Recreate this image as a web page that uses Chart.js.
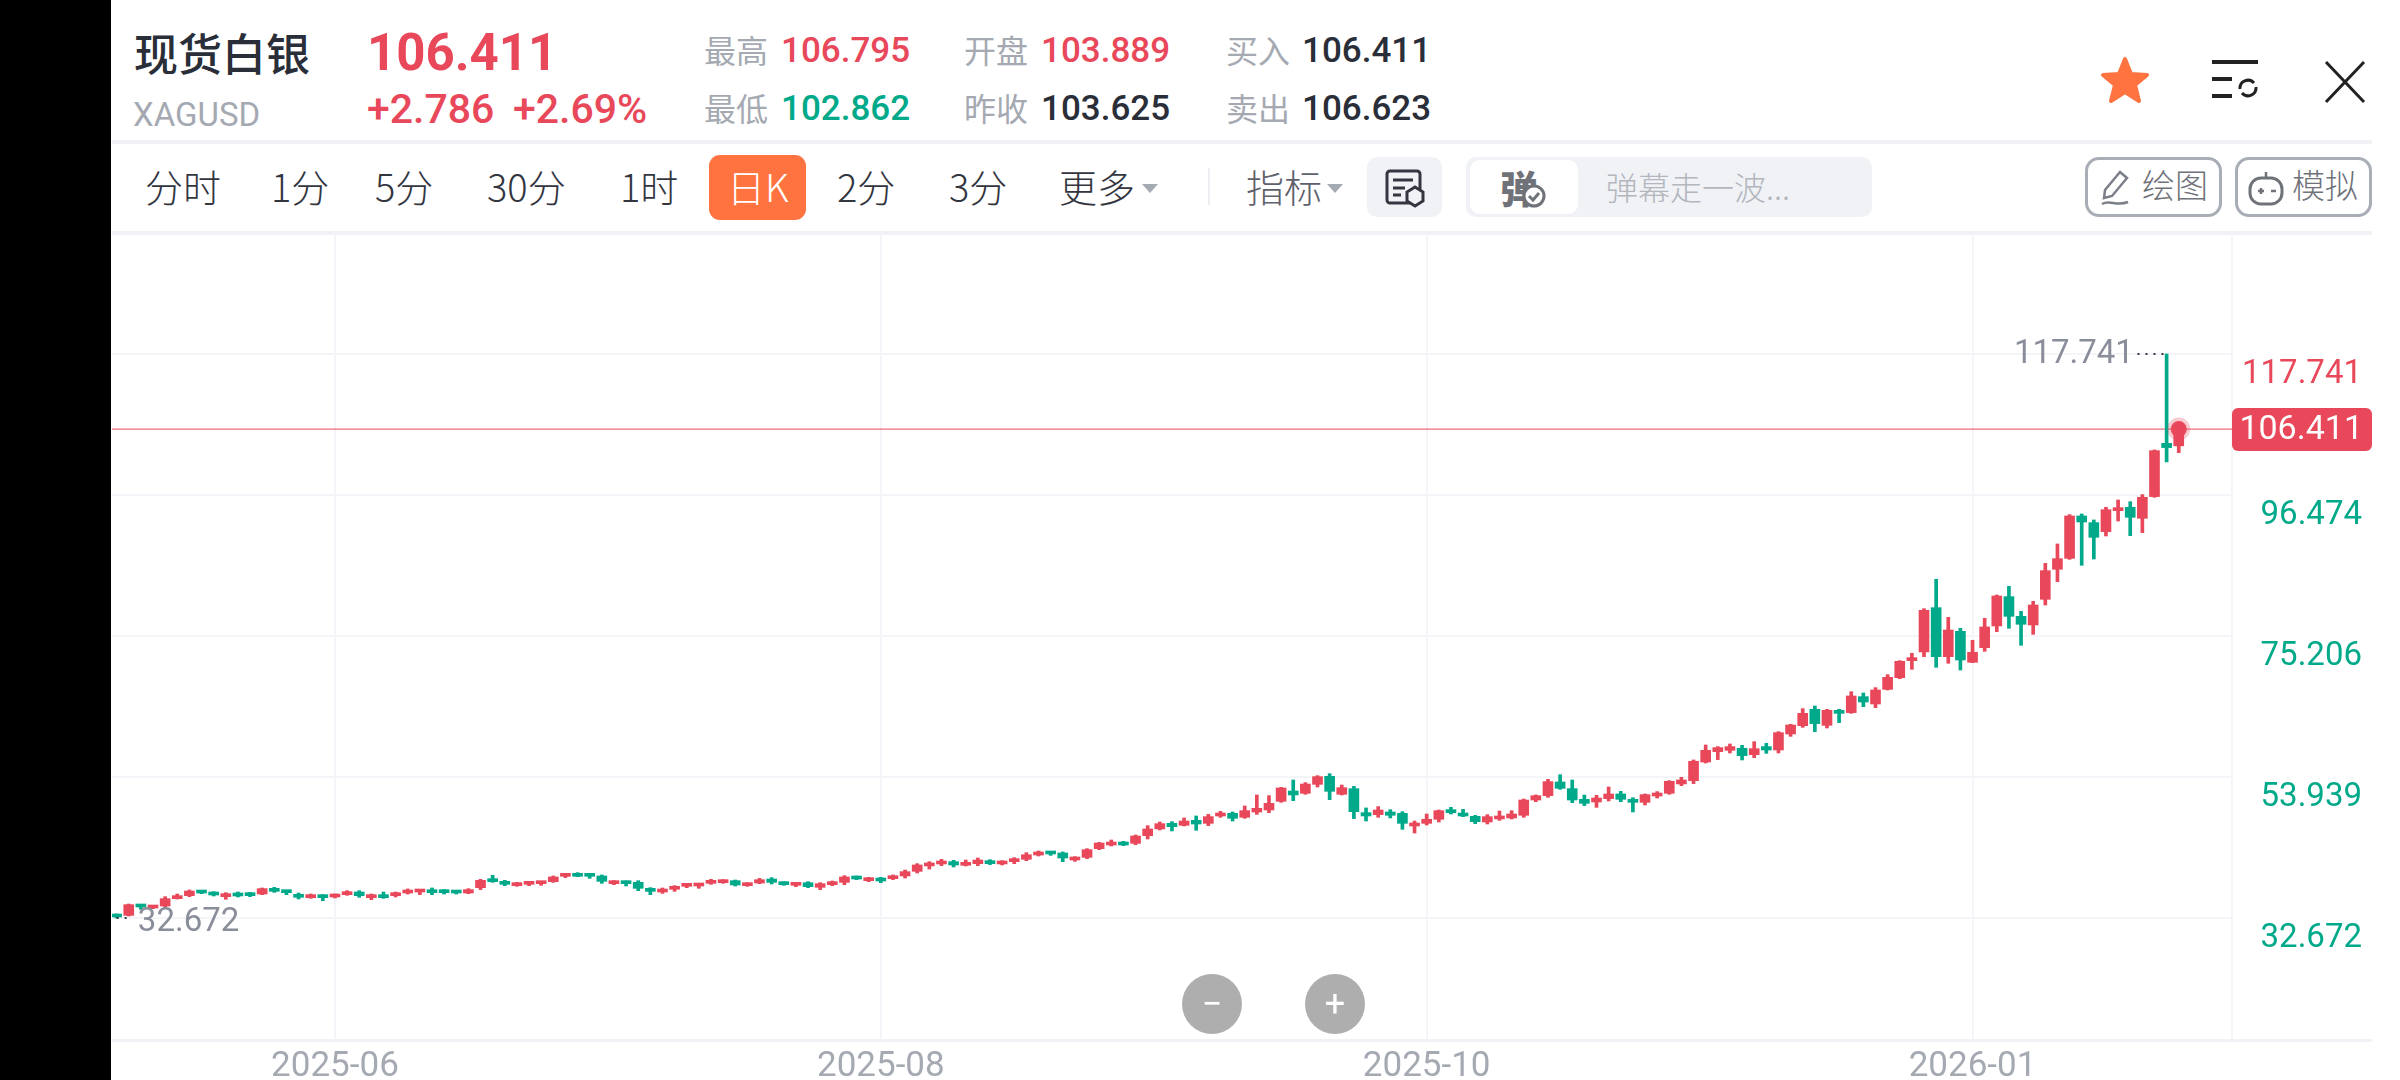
<!DOCTYPE html>
<html lang="zh">
<head>
<meta charset="UTF-8" />
<title>现货白银 XAGUSD</title>
<script src="https://cdn.jsdelivr.net/npm/chart.js"></script>
<style>
  html, body { margin: 0; padding: 0; background: #fff; }
  body { width: 2400px; height: 1080px; overflow: hidden; position: relative; font-family: Roboto, "Noto Sans CJK SC", sans-serif; }
  .t { position: absolute; white-space: nowrap; line-height: 1; }
  .cn { font-family: "Noto Sans CJK SC", sans-serif; }
  .gray { color: #a5a9b2; }
  .red { color: #e8485a; }
  .green { color: #00a98a; }
  .dark { color: #2a2e39; }
  .stat { font-size: 32px; }
  .num { font-size: 35px; font-weight: 500; }
  .tab { font-size: 38px; color: #33363f; font-family: "Noto Sans CJK SC", Roboto, sans-serif; font-weight: 300; }
  .box { position: absolute; box-sizing: border-box; }
  .caret { position: absolute; width: 0; height: 0; border-left: 8px solid transparent; border-right: 8px solid transparent; border-top: 9px solid #a5a9b2; }
  .hline { position: absolute; left: 112px; right: 28px; height: 4px; background: #f1f2f5; }
  .round { position: absolute; width: 60px; height: 60px; border-radius: 50%; background: #aeaeae; top: 974px; }
  #side { position: absolute; left: 0; top: 0; width: 111px; height: 1080px; background: #000; }
  #wrap { position: absolute; left: 112px; top: 233px; width: 2260px; height: 847px; }
</style>
</head>
<body>
<div id="side"></div>

<!-- cabecera -->
<div class="t cn dark" style="left:134px;top:30px;font-size:44px;font-weight:500">现货白银</div>
<div class="t gray" style="left:133px;top:98px;font-size:33px">XAGUSD</div>
<div class="t red" style="left:367px;top:27px;font-size:51px;font-weight:700">106.411</div>
<div class="t red" style="left:367px;top:89px;font-size:41px;font-weight:500">+2.786</div>
<div class="t red" style="left:513px;top:89px;font-size:41px;font-weight:500">+2.69%</div>

<div class="t cn gray stat" style="left:704px;top:33px">最高</div>
<div class="t red num" style="left:781px;top:33px">106.795</div>
<div class="t cn gray stat" style="left:964px;top:33px">开盘</div>
<div class="t red num" style="left:1041px;top:33px">103.889</div>
<div class="t cn gray stat" style="left:1226px;top:33px">买入</div>
<div class="t dark num" style="left:1302px;top:33px">106.411</div>
<div class="t cn gray stat" style="left:704px;top:91px">最低</div>
<div class="t green num" style="left:781px;top:91px">102.862</div>
<div class="t cn gray stat" style="left:964px;top:91px">昨收</div>
<div class="t dark num" style="left:1041px;top:91px">103.625</div>
<div class="t cn gray stat" style="left:1226px;top:91px">卖出</div>
<div class="t dark num" style="left:1302px;top:91px">106.623</div>

<svg class="box" style="left:2098px;top:54px" width="54" height="54" viewBox="0 0 54 54">
  <polygon points="27,5 33,20 49,21 37,31 41,47 27,38 13,47 17,31 5,21 21,20" fill="#ff7340" stroke="#ff7340" stroke-width="4" stroke-linejoin="round"/>
</svg>
<svg class="box" style="left:2205px;top:55px" width="60" height="50" viewBox="0 0 60 50">
  <path d="M7 7h46M7 24h20M7 41h20" stroke="#222" stroke-width="4" fill="none"/>
  <path d="M35 34a8 8 0 0 1 14-6M51 32a8 8 0 0 1-14 6" stroke="#222" stroke-width="3" fill="none"/>
</svg>
<svg class="box" style="left:2320px;top:57px" width="50" height="50" viewBox="0 0 50 50">
  <path d="M6 5l38 40M44 5L6 45" stroke="#222" stroke-width="3" fill="none"/>
</svg>

<div class="hline" style="top:140px"></div>

<!-- pestañas -->
<div class="t tab" style="left:145px;top:167px">分时</div>
<div class="t tab" style="left:271px;top:167px">1分</div>
<div class="t tab" style="left:375px;top:167px">5分</div>
<div class="t tab" style="left:487px;top:167px">30分</div>
<div class="t tab" style="left:620px;top:167px">1时</div>
<div class="box" style="left:709px;top:155px;width:97px;height:65px;background:#ff7340;border-radius:11px"></div>
<div class="t tab" style="left:727px;top:167px;color:#fff">日K</div>
<div class="t tab" style="left:837px;top:167px">2分</div>
<div class="t tab" style="left:949px;top:167px">3分</div>
<div class="t tab" style="left:1059px;top:167px">更多</div>
<div class="caret" style="left:1142px;top:184px"></div>
<div class="box" style="left:1208px;top:168px;width:2px;height:37px;background:#eceef2"></div>
<div class="t tab" style="left:1246px;top:167px;color:#5d616b">指标</div>
<div class="caret" style="left:1327px;top:184px"></div>
<div class="box" style="left:1367px;top:157px;width:75px;height:60px;background:#f0f2f6;border-radius:10px"></div>
<svg class="box" style="left:1384px;top:168px" width="42" height="40" viewBox="0 0 42 40">
  <rect x="3" y="3" width="33" height="32" rx="3" fill="none" stroke="#33363f" stroke-width="3"/>
  <path d="M9 12h20M9 20h12M9 27h8" stroke="#33363f" stroke-width="3"/>
  <polygon points="31,19 39,24 39,33 31,38 23,33 23,24" fill="#f0f2f6" stroke="#33363f" stroke-width="3"/>
</svg>
<div class="box" style="left:1466px;top:157px;width:406px;height:60px;background:#f0f2f6;border-radius:10px"></div>
<div class="box" style="left:1470px;top:160px;width:108px;height:54px;background:#fff;border-radius:10px"></div>
<div class="t cn" style="left:1500px;top:168px;font-size:38px;font-weight:900;color:#6f7278">弹</div>
<svg class="box" style="left:1522px;top:184px" width="24" height="24" viewBox="0 0 24 24">
  <circle cx="12" cy="12" r="10" fill="#fff" stroke="#6f7278" stroke-width="3"/><path d="M7 12l4 4 6-7" stroke="#6f7278" stroke-width="3" fill="none"/>
</svg>
<div class="t cn" style="left:1606px;top:170px;font-size:32px;color:#b3b6bd;font-weight:300">弹幕走一波...</div>

<div class="box" style="left:2085px;top:157px;width:137px;height:60px;border:3px solid #a9adb6;border-radius:14px"></div>
<svg class="box" style="left:2098px;top:168px" width="36" height="40" viewBox="0 0 36 40">
  <path d="M22 4l7 6-15 18-8 2 1-8zM4 36c8-5 14 3 26-2" stroke="#7b7f88" stroke-width="2.5" fill="none"/>
</svg>
<div class="t cn" style="left:2142px;top:168px;font-size:33px;color:#6f7278;font-weight:300">绘图</div>
<div class="box" style="left:2235px;top:157px;width:137px;height:60px;border:3px solid #a9adb6;border-radius:14px"></div>
<svg class="box" style="left:2246px;top:168px" width="40" height="40" viewBox="0 0 40 40">
  <rect x="4" y="10" width="32" height="26" rx="11" fill="none" stroke="#6f7278" stroke-width="3"/>
  <path d="M20 10V4M12 23h6M15 20v6M25 23h5" stroke="#6f7278" stroke-width="2.5"/>
</svg>
<div class="t cn" style="left:2292px;top:168px;font-size:33px;color:#6f7278;font-weight:300">模拟</div>

<div class="hline" style="top:231px"></div>
<div class="hline" style="top:1039px;height:3px"></div>

<div id="wrap"><canvas id="chart"></canvas></div>

<div class="round" style="left:1182px"></div>
<div class="t" style="left:1182px;width:60px;top:986px;text-align:center;font-size:36px;color:#fff">−</div>
<div class="round" style="left:1305px"></div>
<div class="t" style="left:1305px;width:60px;top:986px;text-align:center;font-size:36px;color:#fff">+</div>

<script>
  // velas diarias
  const opens = [
    33.12,33.07,34.63,34.18,34.48,35.59,36.04,36.74,36.49,35.89,36.24,36.29,36.29,37.00,36.74,36.24,35.74,35.94,35.84,36.19,
    36.59,35.74,35.99,36.04,36.44,36.59,36.85,36.79,36.69,36.44,37.25,38.45,38.15,37.55,37.75,37.85,38.15,38.96,39.21,39.26,
    39.01,37.85,38.15,38.05,37.10,36.59,37.00,37.45,37.50,37.90,38.00,38.30,37.55,37.95,38.55,37.95,37.60,38.00,37.30,37.70,
    38.05,38.81,38.30,38.60,38.60,39.01,39.71,40.52,40.82,41.17,40.62,40.87,41.27,40.82,41.17,41.52,42.17,42.58,42.48,41.42,
    41.82,43.13,43.68,43.93,43.93,45.09,46.10,46.95,46.65,47.40,46.95,48.06,48.46,47.86,48.66,48.96,50.27,51.83,51.48,52.83,
    54.04,51.33,52.18,48.56,48.26,48.66,48.46,46.55,46.95,47.56,49.01,48.46,48.01,47.15,47.61,47.76,48.16,50.47,51.12,53.19,
    52.18,50.57,50.17,50.67,51.38,50.57,50.12,51.07,51.48,52.89,53.39,56.20,57.76,57.96,58.27,57.31,58.52,58.01,60.43,61.68,
    64.15,61.73,63.85,63.65,66.06,64.95,67.16,68.92,71.49,72.80,79.48,72.09,75.91,71.24,73.45,76.72,81.14,78.17,76.87,80.74,
    85.27,86.92,93.31,92.30,90.95,94.11,94.62,92.96,96.23,104.27,103.889
  ];
  const highs = [
    33.28,34.78,34.73,34.53,35.89,36.29,36.90,36.85,36.64,36.49,36.59,36.54,37.20,37.30,36.85,36.44,36.29,36.19,36.29,36.79,
    36.79,36.29,36.59,36.59,37.05,37.00,37.20,36.95,36.79,37.10,38.50,39.11,38.35,38.05,38.20,38.20,39.01,39.36,39.51,39.41,
    39.16,38.30,38.25,38.30,37.25,37.20,37.55,37.85,37.80,38.50,38.45,38.40,38.00,38.65,38.76,38.15,38.00,38.15,38.00,38.25,
    39.06,39.01,38.81,38.81,39.16,39.91,40.87,41.17,41.52,41.37,41.42,41.72,41.47,41.32,41.77,42.53,42.78,42.73,42.63,41.92,
    43.13,44.09,44.44,44.24,45.19,46.60,47.15,47.20,47.76,48.06,48.31,48.76,48.66,49.57,51.23,51.13,52.38,53.49,53.09,54.14,
    54.44,52.73,52.53,49.27,49.47,49.01,48.71,47.30,48.36,48.96,49.36,49.06,48.16,48.26,48.81,48.86,50.62,51.23,53.59,54.29,
    53.49,51.22,51.17,52.43,51.78,50.82,51.38,51.73,53.39,53.89,56.51,58.77,58.52,58.92,58.72,59.27,59.02,60.78,61.89,64.25,
    64.65,64.15,64.15,66.81,66.61,67.42,69.38,71.49,72.60,79.33,83.76,78.02,76.37,74.56,77.87,81.39,82.70,78.93,80.44,86.17,
    89.09,93.51,93.61,92.71,94.62,95.72,95.46,96.53,103.27,117.741,106.795
  ];
  const lows = [
    32.672,32.97,33.98,34.08,34.28,35.54,35.89,36.34,35.99,35.49,35.84,35.89,36.19,36.54,36.19,35.54,35.64,35.29,35.69,36.09,
    35.79,35.44,35.64,35.84,36.29,36.19,36.19,36.29,36.29,36.34,36.95,38.05,37.55,37.45,37.55,37.60,38.05,38.76,38.91,38.65,
    37.90,37.70,37.50,36.79,36.19,36.39,36.69,37.25,37.15,37.75,37.90,37.50,37.45,37.85,37.80,37.60,37.40,37.25,36.95,37.55,
    37.70,38.45,38.15,38.00,38.45,38.70,39.46,40.06,40.57,40.37,40.52,40.57,40.72,40.67,40.87,41.32,42.02,42.12,41.17,41.22,
    41.62,42.98,43.53,43.58,43.73,44.59,45.95,45.80,46.55,45.90,46.60,47.86,47.30,47.71,48.31,48.56,50.12,50.37,51.33,52.43,
    50.52,51.23,47.66,47.30,47.86,47.76,46.05,45.49,46.70,47.15,48.36,47.96,46.90,46.85,47.40,47.61,47.86,50.22,50.87,52.08,
    50.07,49.62,49.36,50.32,50.22,48.66,49.72,50.77,51.33,52.63,52.94,56.05,56.56,57.56,56.51,56.86,57.51,57.56,60.07,61.43,
    60.78,61.33,62.14,63.54,64.55,64.40,67.06,68.77,70.18,72.09,70.48,71.09,70.08,71.19,72.90,75.86,76.37,73.80,75.46,79.88,
    83.40,86.77,85.87,86.82,90.29,92.55,90.34,90.79,96.13,101.46,102.862
  ];
  const closes = [
    32.82,34.68,34.33,34.38,35.59,35.89,36.74,36.44,36.14,36.29,35.99,36.04,37.10,36.69,36.49,35.79,35.99,35.74,36.14,36.59,
    36.04,36.09,35.74,36.49,36.85,36.79,36.49,36.49,36.44,36.95,38.35,38.15,37.75,37.85,38.05,38.05,38.86,39.21,38.96,38.96,
    38.20,38.05,37.85,37.15,36.69,37.00,37.35,37.75,37.65,38.25,38.25,37.65,37.80,38.45,38.05,37.70,37.90,37.40,37.85,38.05,
    38.86,38.55,38.60,38.25,39.01,39.66,40.67,40.87,41.27,40.67,40.97,41.42,40.87,41.17,41.52,42.22,42.63,42.33,41.72,41.77,
    42.98,43.98,44.09,43.68,45.04,46.10,46.90,46.45,47.30,46.85,47.96,48.51,47.71,48.86,49.21,49.97,52.28,51.23,52.88,53.99,
    51.78,52.33,48.71,48.06,48.96,48.16,46.95,46.95,47.56,48.86,48.56,48.06,47.20,47.96,48.01,48.36,50.47,51.12,53.24,52.23,
    50.47,49.97,50.77,51.38,50.57,50.12,51.28,51.48,53.29,53.49,56.31,57.96,58.37,58.52,57.16,58.21,58.01,60.63,61.78,63.54,
    61.99,64.00,63.54,66.16,65.25,67.06,68.97,71.39,71.84,79.08,72.09,76.11,71.59,72.75,76.57,81.24,78.17,76.97,79.88,85.06,
    86.87,93.31,92.40,90.09,94.26,94.47,93.11,96.13,103.16,103.625,106.411
  ];

  const priceTicks = [117.741, 96.474, 75.206, 53.939, 32.672];
  const monthLabels = ['2025-06', '2025-08', '2025-10', '2026-01'];
  const monthIndex = [18, 63, 108, 153];
  const lastPrice = 106.411;
  const highPrice = 117.741;
  const lowPrice = 32.672;

  const UP = '#e8485a';
  const DOWN = '#00a98a';
  const candleColor = closes.map((c, i) => c >= opens[i] ? UP : DOWN);
  const xMin = -0.38, xMax = 174.39;

  const fixBox = scale => {
    scale.paddingTop = 0; scale.paddingBottom = 0;
    scale.paddingLeft = 0; scale.paddingRight = 0;
  };

  // textos y caja de precio sobre el grafico
  const priceLabels = {
    id: 'priceLabels',
    afterDatasetsDraw(chart) {
      const { ctx, scales: { x, y } } = chart;
      ctx.save();
      ctx.font = '33px Roboto';
      ctx.textBaseline = 'middle';
      ctx.fillStyle = '#8a8e9b';
      ctx.textAlign = 'right';
      ctx.fillText(highPrice.toFixed(3), x.getPixelForValue(166.3), y.getPixelForValue(highPrice) + 1);
      ctx.textAlign = 'left';
      ctx.fillText(lowPrice.toFixed(3), x.getPixelForValue(1.75), y.getPixelForValue(lowPrice) + 5);
      const py = y.getPixelForValue(lastPrice);
      ctx.fillStyle = UP;
      ctx.beginPath();
      ctx.roundRect(x.right, py - 21, 140, 43, 6);
      ctx.fill();
      ctx.fillStyle = '#fff';
      ctx.textAlign = 'right';
      ctx.font = '34px Roboto';
      ctx.fillText(lastPrice.toFixed(3), x.right + 131, py + 1);
      ctx.restore();
    }
  };

  new Chart(document.getElementById('chart'), {
    type: 'bar',
    data: {
      datasets: [
        {
          type: 'line', order: 0,
          data: [{ x: 170, y: lastPrice }],
          showLine: false, pointRadius: 8, pointBackgroundColor: UP,
          pointBorderWidth: 7, pointBorderColor: 'rgba(232,72,90,0.28)'
        },
        {
          type: 'line', order: 1,
          data: [{ x: 166.6, y: highPrice }, { x: 169, y: highPrice }],
          borderColor: '#33363f', borderWidth: 2, borderDash: [2, 6], pointRadius: 0
        },
        {
          type: 'line', order: 1,
          data: [{ x: 0, y: lowPrice }, { x: 1.3, y: lowPrice }],
          borderColor: '#33363f', borderWidth: 2, borderDash: [2, 6], pointRadius: 0
        },
        {
          order: 2, grouped: false, barThickness: 10, minBarLength: 3, borderSkipped: false,
          data: opens.map((o, i) => ({ x: i, y: [o, closes[i]] })),
          backgroundColor: candleColor
        },
        {
          order: 3, grouped: false, barThickness: 3, borderSkipped: false,
          data: lows.map((l, i) => ({ x: i, y: [l, highs[i]] })),
          backgroundColor: candleColor
        },
        {
          type: 'line', order: 4,
          data: [{ x: xMin, y: lastPrice }, { x: xMax, y: lastPrice }],
          borderColor: UP, borderWidth: 1, pointRadius: 0
        }
      ]
    },
    options: {
      responsive: true,
      maintainAspectRatio: false,
      animation: false,
      events: [],
      layout: { padding: { right: 10 }, autoPadding: false },
      plugins: { legend: { display: false }, tooltip: { enabled: false } },
      scales: {
        x: {
          type: 'linear', offset: false, min: xMin, max: xMax,
          afterBuildTicks: s => { s.ticks = monthIndex.map(v => ({ value: v })); },
          afterFit: s => { s.height = 40; fixBox(s); },
          grid: { color: '#f4f5f8', lineWidth: 2, drawTicks: false, offset: false },
          border: { display: false },
          ticks: {
            autoSkip: false, maxRotation: 0, padding: 6, color: '#a5a9b2',
            font: { family: 'Roboto', size: 35 },
            callback: v => monthLabels[monthIndex.indexOf(v)]
          }
        },
        y: {
          position: 'right', min: 14.27, max: 135.99,
          afterBuildTicks: s => { s.ticks = priceTicks.map(v => ({ value: v })); },
          afterFit: s => { s.width = 130; fixBox(s); },
          grid: { color: '#f4f5f8', lineWidth: 2, drawTicks: false },
          border: { display: true, color: '#f4f5f8', width: 2 },
          ticks: {
            autoSkip: false, crossAlign: 'far', labelOffset: 21, padding: 1,
            color: c => c.tick.value === highPrice ? UP : DOWN,
            font: { family: 'Roboto', size: 33 },
            callback: v => v.toFixed(3)
          }
        }
      }
    },
    plugins: [priceLabels]
  });
</script>
</body>
</html>
